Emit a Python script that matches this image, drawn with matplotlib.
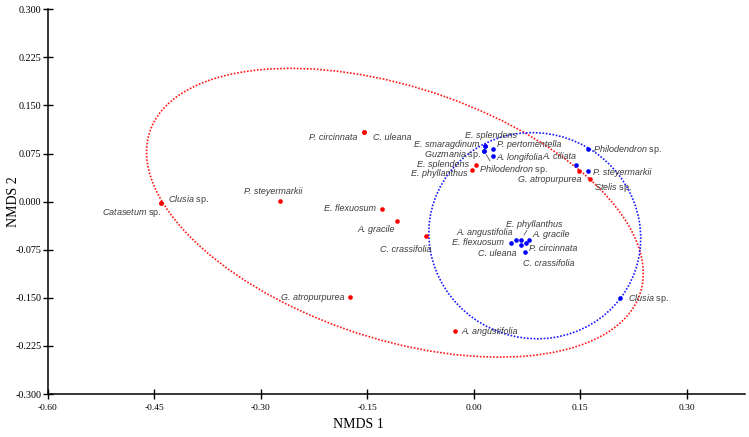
import matplotlib
matplotlib.use("Agg")
import matplotlib.pyplot as plt
from matplotlib.patches import Ellipse

plt.rcParams['mathtext.fontset'] = 'custom'
plt.rcParams['mathtext.it'] = 'Liberation Sans:italic'
plt.rcParams['mathtext.rm'] = 'Liberation Sans'

# ---------------- data ----------------
red_species = ["P. circinnata", "C. uleana", "Clusia sp.", "Catasetum sp.", "P. steyermarkii",
               "E. flexuosum", "A. gracile", "C. crassifolia", "G. atropurpurea", "A. angustifolia",
               "E. splendens", "E. phyllanthus", "G. atropurpurea", "Stelis sp."]
red_x = [-0.1545, -0.1545, -0.4404, -0.4404, -0.2732, -0.1296, -0.1085, -0.0672, -0.1742, -0.0263,
         0.0032, -0.0020, 0.1479, 0.1634]
red_y = [0.1083, 0.1083, -0.0022, -0.0022, 0.0005, -0.0109, -0.0297, -0.0542, -0.1491, -0.2016,
         0.0572, 0.0489, 0.0473, 0.0353]

blue_species = ["E. splendens", "E. smaragdinum", "Guzmania sp.", "Philodendron sp.", "P. pertomentella",
                "A. longifolia", "Philodendron sp.", "A. ciliata", "P. steyermarkii", "Clusia sp.",
                "E. flexuosum", "A. angustifolia", "E. phyllanthus", "A. gracile", "P. circinnata",
                "C. uleana", "C. crassifolia"]
blue_x = [0.0159, 0.0159, 0.0149, 0.0149, 0.0268, 0.0272, 0.1606, 0.1445, 0.1606, 0.2056,
          0.0525, 0.0596, 0.0662, 0.0779, 0.0732, 0.0662, 0.0723]
blue_y = [0.0869, 0.0869, 0.0786, 0.0786, 0.0817, 0.0713, 0.0817, 0.0567, 0.0473, -0.1506,
          -0.0641, -0.0600, -0.0600, -0.0600, -0.0652, -0.0678, -0.0788]

# 95% ellipses: centre x, centre y, width, height, angle (deg)
red_ellipse = [-0.1110, -0.0173, 0.7358, 0.3886, 158.62]
blue_ellipse = [0.0860, -0.0531, 0.3221, 0.2978, -80.96]

x_ticks = [-0.60, -0.45, -0.30, -0.15, 0.00, 0.15, 0.30]
y_ticks = [-0.300, -0.225, -0.150, -0.075, 0.000, 0.075, 0.150, 0.225, 0.300]
x_label = "NMDS 1"
y_label = "NMDS 2"

# ---------------- layout ----------------
red_off = [(-4.5, -3.8, 'right'), (6.3, -3.8, 'left'), (4.8, 2.4, 'left'), (0.5, -6.5, 'right'),
           (-4.5, 7.4, 'center'), (-4.3, 0, 'right'), (-14.7, -6.0, 'center'), (-14.4, -9.4, 'center'),
           (-4.1, 0, 'right'), (4.8, -0.7, 'left'), (-4.8, 0.0, 'right'), (-3.6, -2.6, 'right'),
           (2.2, -6.0, 'right'), (3.3, -6.2, 'left')]
blue_off = [(4.3, 7.7, 'center'), (-4.3, 1.0, 'right'), (-2.6, -2.2, 'right'), (-3.6, -13.2, 'left'),
            (2.9, 3.4, 'left'), (2.2, -1.4, 'left'), (4.0, 0, 'left'), (0.3, 6.0, 'right'),
            (4.0, -0.7, 'left'), (6.2, 0, 'left'), (-5.0, 0, 'right'), (-2.2, 5.3, 'right'),
            (9.7, 11.3, 'center'), (2.2, 4.1, 'left'), (2.4, -3.6, 'left'), (-2.7, -6.2, 'right'),
            (17.4, -7.9, 'center')]
leaders = [(3, (4.1, -7.0), 2.7), (12, (4.5, 7.0), 4.3)]

fig = plt.figure(figsize=(7.49, 4.37), dpi=100)
ax = fig.add_axes([47.7 / 749, (437 - 394) / 437, (745 - 47.7) / 749, (394 - 9.3) / 437])
ax.set_xlim(-0.60, 0.3821)
ax.set_ylim(-0.30, 0.30)

for (cx, cy, w, h, an), col in [(red_ellipse, '#ff1a1a'), (blue_ellipse, '#1a1aff')]:
    ax.add_patch(Ellipse((cx, cy), w, h, angle=an, fill=False, edgecolor=col,
                         linestyle=(0, (1, 1)), linewidth=1.2, zorder=2))

ax.scatter(red_x, red_y, s=11, color='#ff0000', zorder=3, linewidths=0)
ax.scatter(blue_x, blue_y, s=11, color='#0000ff', zorder=3, linewidths=0)


def fmt(name):
    if name.endswith(" sp."):
        return r"$\mathit{%s}$ sp." % name[:-4], 'normal'
    return name, 'italic'


lab_col = '#3c3c3c'
for names, xs, ys, offs in [(red_species, red_x, red_y, red_off),
                            (blue_species, blue_x, blue_y, blue_off)]:
    for n, x, y, (dx, dy, ha) in zip(names, xs, ys, offs):
        t, st = fmt(n)
        ax.annotate(t, (x, y), xytext=(dx, dy), textcoords='offset points', ha=ha, va='center',
                    fontsize=6.5, fontstyle=st, family='Liberation Sans', color=lab_col, zorder=4)
for i, (sx, sy), shr in leaders:
    ax.annotate('', (blue_x[i], blue_y[i]), xytext=(sx, sy), textcoords='offset points',
                arrowprops=dict(arrowstyle='-', color='#555555', lw=0.6, shrinkA=0, shrinkB=shr))

for s in ['top', 'right']:
    ax.spines[s].set_visible(False)
for s in ['left', 'bottom']:
    ax.spines[s].set_linewidth(1.1)
ax.set_xticks([ax.get_xlim()[0]] + x_ticks[1:])
ax.set_xticklabels(["%.2f" % v for v in x_ticks])
ax.set_yticks(y_ticks)
ax.set_yticklabels(["%.3f" % v for v in y_ticks])
ax.tick_params(axis='both', direction='inout', length=7, width=1.0)
ax.tick_params(axis='x', pad=4, labelsize=6.8)
ax.tick_params(axis='y', pad=1, labelsize=7.3)
for lab in ax.get_xticklabels() + ax.get_yticklabels():
    lab.set_family('Liberation Serif')
ax.set_xlabel(x_label, family='Liberation Serif', fontsize=10)
ax.set_ylabel(y_label, family='Liberation Serif', fontsize=10)
ax.xaxis.set_label_coords(0.445, -0.062)
ax.yaxis.set_label_coords(-0.040, 0.5)

fig.savefig("out.png", dpi=100)
